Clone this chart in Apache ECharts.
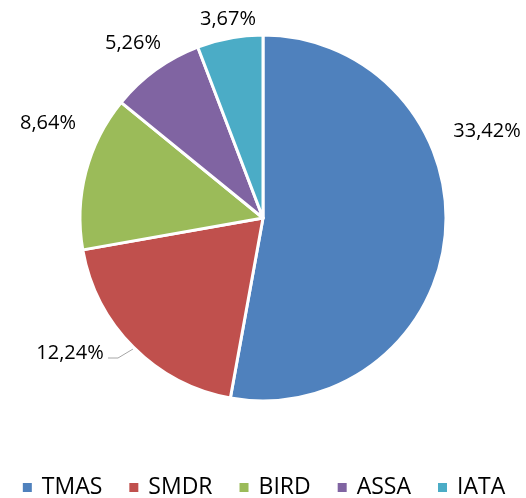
<!DOCTYPE html>
<html>
<head>
<meta charset="utf-8">
<script src="https://cdn.jsdelivr.net/npm/echarts@6/dist/echarts.min.js"></script>
<style>
  html, body { margin: 0; padding: 0; background: #ffffff; }
  #chart { width: 526px; height: 498px; }
</style>
</head>
<body>
<div id="chart"></div>
<script>
// data
const names = ["TMAS", "SMDR", "BIRD", "ASSA", "IATA"];
const values = [33.42, 12.24, 8.64, 5.26, 3.67];
const colors = ["#4F81BD", "#C0504D", "#9BBB59", "#8064A2", "#4BACC6"];

// label spots (Excel "best fit" style)
const labelSpots = [
  { x: 487, y: 131 },
  { x: 70, y: 353, line: [[133, 349], [118, 358], [108, 358]] },
  { x: 48, y: 123 },
  { x: 133, y: 43 },
  { x: 228, y: 19 }
];

var myChart = echarts.init(document.getElementById("chart"));
let dataList = names.map((n, i) => ({ name: n, value: values[i] }));

let option = {
  color: colors,
  animation: false,
  legend: {
    data: names,
    top: 471,
    left: "center",
    icon: "rect",
    itemWidth: 11,
    itemHeight: 11,
    itemGap: 25,
    textStyle: {
      color: "#000000",
      fontSize: 23,
      fontFamily: "Open Sans",
      padding: [0, 0, 0, 4]
    }
  },
  series: [
    {
      type: "pie",
      center: [263, 218],
      radius: 183,
      startAngle: 90,
      clockwise: true,
      data: dataList,
      itemStyle: {
        borderColor: "#ffffff",
        borderWidth: 3
      },
      label: {
        show: true,
        position: "outside",
        color: "#000000",
        fontSize: 20,
        fontFamily: "Open Sans",
        overflow: "none",
        formatter: p => p.value.toFixed(2).replace(".", ",") + "%"
      },
      labelLine: {
        show: true,
        lineStyle: { color: "#A6A6A6", width: 1 }
      },
      labelLayout: function(params) {
        let s = labelSpots[params.dataIndex];
        let r = {
          x: s.x,
          y: s.y,
          align: "center",
          verticalAlign: "middle",
          width: 120
        };
        r.labelLinePoints = s.line ? s.line : [[s.x, s.y], [s.x, s.y], [s.x, s.y]];
        return r;
      }
    }
  ]
};
myChart.setOption(option);
</script>
</body>
</html>
